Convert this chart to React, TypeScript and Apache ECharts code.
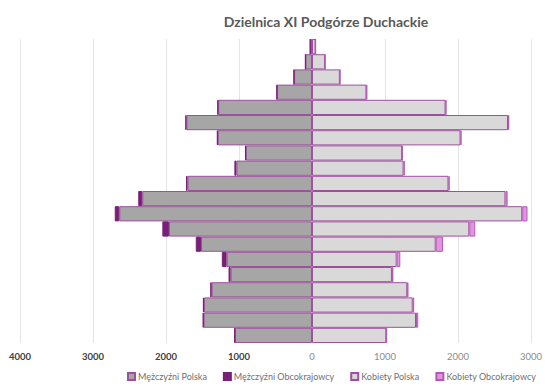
import React, { useEffect, useRef } from "react";
import * as echarts from "echarts";

const ageGroups = [
  "0-4", "5-9", "10-14", "15-19", "20-24", "25-29", "30-34", "35-39", "40-44", "45-49",
  "50-54", "55-59", "60-64", "65-69", "70-74", "75-79", "80-84", "85-89", "90-94", "95+",
];
const menPolska = [1055, 1485, 1480, 1375, 1115, 1170, 1520, 1960, 2640, 2325, 1705, 1035, 905, 1290, 1720, 1285, 478, 245, 89, 24];
const menForeign = [8, 10, 14, 18, 28, 65, 72, 90, 62, 55, 20, 28, 12, 12, 15, 10, 8, 5, 2, 1];
const womenPolska = [1018, 1425, 1380, 1305, 1095, 1160, 1695, 2155, 2880, 2650, 1870, 1255, 1235, 2035, 2685, 1830, 746, 382, 179, 49];
const womenForeign = [8, 30, 20, 15, 20, 50, 100, 82, 72, 30, 15, 15, 10, 12, 18, 10, 8, 4, 2, 1];

const seriesNames = ["Mężczyźni Polska", "Mężczyźni Obcokrajowcy", "Kobiety Polska", "Kobiety Obcokrajowcy"];

export default function App() {
  const ref = useRef<HTMLDivElement>(null);
  useEffect(() => {
    if (!ref.current) return;
    const chart = echarts.init(ref.current, null, { renderer: "svg" });
    const font = "Lato, 'Open Sans', sans-serif";
    const border = "#9E4F9E";
    const mkSeries = (name: string, data: number[], neg: boolean, fill: string, bcolor: string) => ({
      name,
      type: "bar",
      stack: "total",
      barCategoryGap: "0%",
      data: data.map((v) => (neg ? -v : v)),
      itemStyle: { color: fill, borderColor: bcolor, borderWidth: 1 },
      emphasis: { disabled: true },
    });
    chart.setOption({
      animation: false,
      title: {
        text: "Dzielnica XI Podgórze Duchackie",
        left: 321,
        textAlign: "center",
        top: 9,
        textStyle: { fontFamily: font, fontSize: 14, fontWeight: "bold", color: "#595959" },
      },
      legend: {
        data: seriesNames,
        icon: "rect",
        top: 372,
        left: 127,
        width: 418,
        padding: 0,
        itemWidth: 7,
        itemHeight: 7,
        itemGap: 16,
        textStyle: { fontFamily: font, fontSize: 9, color: "#707070", padding: [0, 0, 0, -2] },
      },
      grid: { left: 20, right: 11, top: 39, bottom: 46 },
      xAxis: {
        type: "value",
        min: -4000,
        max: 3000,
        interval: 1000,
        axisLine: { show: false },
        axisTick: { show: false },
        splitLine: { lineStyle: { color: "#E4E4E4", width: 1 } },
        axisLabel: {
          margin: 8,
          fontFamily: font,
          fontSize: 9.5,
          formatter: (v: number) => (v < 0 ? `{d|${Math.abs(v)}}` : `{l|${v}}`),
          rich: {
            d: { color: "#404040", fontFamily: font, fontSize: 9.5, fontWeight: "bold" },
            l: { color: "#8C8C8C", fontFamily: font, fontSize: 9.5 },
          },
        },
      },
      yAxis: {
        type: "category",
        data: ageGroups,
        axisLine: { show: false },
        axisTick: { show: false },
        axisLabel: { show: false },
      },
      series: [
        mkSeries(seriesNames[0], menPolska, true, "#A6A6A6", border),
        mkSeries(seriesNames[1], menForeign, true, "#7A1F78", "#7A1F78"),
        mkSeries(seriesNames[2], womenPolska, false, "#D9D9D9", border),
        mkSeries(seriesNames[3], womenForeign, false, "#E493E2", "#B35AB3"),
      ],
    });
    return () => chart.dispose();
  }, []);
  return (
    <div
      ref={ref}
      style={{ position: "fixed", left: 0, top: 0, width: 545, height: 389, background: "#fff" }}
    />
  );
}
